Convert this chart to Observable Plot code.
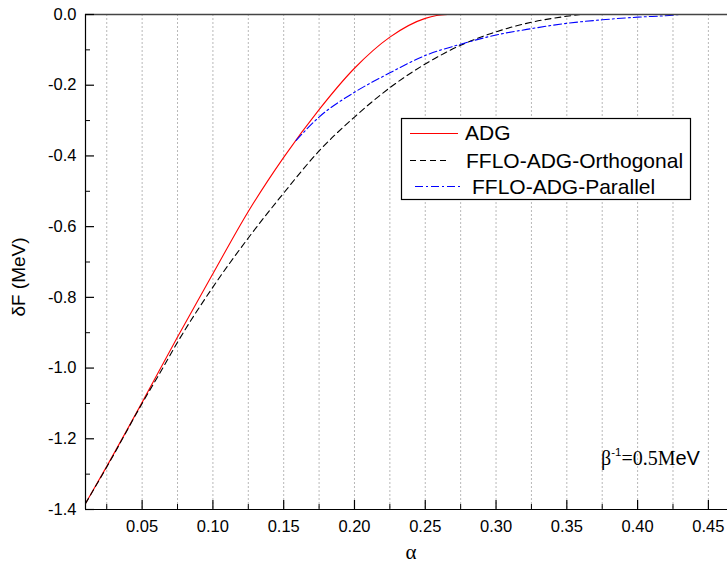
<!DOCTYPE html>
<html>
<head>
<meta charset="utf-8">
<script src="https://cdn.jsdelivr.net/npm/d3@7"></script>
<script src="https://cdn.jsdelivr.net/npm/@observablehq/plot@0.6"></script>
<style>
  html, body { margin: 0; padding: 0; background: white; }
  #wrap { position: relative; width: 727px; height: 565px; overflow: hidden; }
  #overlay { position: absolute; left: 0; top: 0; pointer-events: none; }
</style>
</head>
<body>
<div id="wrap"></div>
<script>
// ---- data ----
const xDomain = [0.01, 0.4635];
const yDomain = [-1.4, 0];

const xMajorTicks = [0.05, 0.10, 0.15, 0.20, 0.25, 0.30, 0.35, 0.40, 0.45];
const xMinorTicks = [0.025, 0.075, 0.125, 0.175, 0.225, 0.275, 0.325, 0.375, 0.425];
const xGridLines = [0.025, 0.05, 0.075, 0.10, 0.125, 0.15, 0.175, 0.20, 0.225, 0.25, 0.275, 0.30, 0.325, 0.35, 0.375, 0.40, 0.425, 0.45];
const yMajorTicks = [0.0, -0.2, -0.4, -0.6, -0.8, -1.0, -1.2, -1.4];
const yMinorTicks = [-0.1, -0.3, -0.5, -0.7, -0.9, -1.1, -1.3];

const seriesNames = ["ADG", "FFLO-ADG-Orthogonal", "FFLO-ADG-Parallel"];
const seriesColors = ["#ff0000", "#000000", "#0000ff"];
const seriesDashes = [null, "6,4", "8,3,2,3"];

const adgAlpha = [0.01, 0.025, 0.05, 0.075, 0.10, 0.125, 0.15, 0.175, 0.20, 0.225, 0.25, 0.258, 0.266];
const adgF     = [-1.383, -1.278, -1.097, -0.912, -0.733, -0.557, -0.404, -0.269, -0.152, -0.064, -0.011, -0.003, 0.0];

const orthAlpha = [0.01, 0.025, 0.05, 0.065, 0.075, 0.10, 0.125, 0.15, 0.175, 0.20, 0.225, 0.25, 0.275, 0.30, 0.325, 0.35, 0.36];
const orthF     = [-1.383, -1.280, -1.100, -0.997, -0.927, -0.771, -0.632, -0.505, -0.386, -0.290, -0.207, -0.140, -0.087, -0.049, -0.022, -0.005, 0.0];

const parAlpha = [0.1588, 0.175, 0.20, 0.225, 0.25, 0.275, 0.30, 0.325, 0.35, 0.375, 0.40, 0.425, 0.43, 0.4635];
const parF     = [-0.356, -0.290, -0.220, -0.165, -0.116, -0.084, -0.058, -0.040, -0.025, -0.015, -0.0075, -0.002, 0.0, 0.0];

const alphaLists = [adgAlpha, orthAlpha, parAlpha];
const fLists = [adgF, orthF, parF];

// ---- build ----
const W = 727, H = 565;
const mL = 85, mR = 0, mT = 14, mB = 56;

const lineMarks = seriesNames.map((name, s) =>
  Plot.line(alphaLists[s].map((a, i) => ({a, f: fLists[s][i]})), {
    x: "a", y: "f", stroke: seriesColors[s], strokeWidth: 1.1,
    strokeDasharray: seriesDashes[s], curve: "monotone-x"
  })
);

const chart = Plot.plot({
  width: W, height: H,
  marginLeft: mL, marginRight: mR, marginTop: mT, marginBottom: mB,
  style: {fontFamily: "'Liberation Sans', Arial, sans-serif", fontSize: "16.5px", color: "black", background: "white", overflow: "visible"},
  x: {domain: xDomain, label: null},
  y: {domain: yDomain, label: null},
  marks: [
    Plot.ruleX(xGridLines, {stroke: "#b8b8b8", strokeWidth: 1, strokeDasharray: "2,2"}),
    ...lineMarks,
    Plot.ruleY([yDomain[1]], {stroke: "#444", strokeWidth: 1.3}),
    Plot.ruleY([yDomain[0]], {stroke: "#000", strokeWidth: 1.2}),
    Plot.ruleX([xDomain[0]], {stroke: "#000", strokeWidth: 1.2}),
    Plot.axisY(yMajorTicks, {tickSize: -9, fill: "none", label: null, strokeWidth: 1.2}),
    Plot.axisY(yMinorTicks, {tickSize: -5, fill: "none", label: null}),
    Plot.axisY(yMajorTicks, {tickSize: 0, tickPadding: 9, label: null, tickFormat: d => d.toFixed(1)}),
    Plot.axisX(xMajorTicks, {tickSize: -9, fill: "none", label: null, strokeWidth: 1.2}),
    Plot.axisX(xMinorTicks, {tickSize: -5, fill: "none", label: null}),
    Plot.axisX(xMajorTicks, {tickSize: 0, tickPadding: 11, label: null, tickFormat: d => d.toFixed(2)})
  ]
});
document.getElementById("wrap").appendChild(chart);

// ---- overlay: labels, legend, annotation ----
const ov = d3.select("#wrap").append("svg")
  .attr("id", "overlay").attr("width", W).attr("height", H);

// y label
ov.append("text")
  .attr("transform", "translate(25,277) rotate(-90)")
  .attr("text-anchor", "middle")
  .attr("font-family", "'Liberation Sans', Arial, sans-serif")
  .attr("font-size", 19)
  .text("δF (MeV)");

// x label
ov.append("text")
  .attr("x", 411).attr("y", 559)
  .attr("text-anchor", "middle")
  .attr("font-family", "'Liberation Serif', 'Times New Roman', serif")
  .attr("font-size", 21)
  .text("α");

// annotation
const ann = ov.append("text").attr("x", 601).attr("y", 465)
  .attr("font-size", 20);
ann.append("tspan").attr("font-family", "'Liberation Serif', serif").text("β");
ann.append("tspan").attr("font-family", "'Liberation Sans', sans-serif").attr("font-size", 11.5).attr("dy", -9).text("-1");
ann.append("tspan").attr("font-family", "'Liberation Serif', serif").attr("dy", 9).text("=0.5M");
ann.append("tspan").attr("font-family", "'Liberation Sans', sans-serif").text("eV");

// legend
const lg = ov.append("g");
lg.append("rect").attr("x", 401.5).attr("y", 118.5).attr("width", 289).attr("height", 81)
  .attr("fill", "white").attr("stroke", "black").attr("stroke-width", 1.2);
const legRows = [
  {y: 133.5, x1: 410, x2: 458, tx: 465, ty: 140},
  {y: 160.5, x1: 410, x2: 450, tx: 466, ty: 167.5},
  {y: 186.5, x1: 415, x2: 463, tx: 472, ty: 194}
];
seriesNames.forEach((name, s) => {
  const r = legRows[s];
  lg.append("line").attr("x1", r.x1).attr("x2", r.x2).attr("y1", r.y).attr("y2", r.y)
    .attr("stroke", seriesColors[s]).attr("stroke-width", 1.2)
    .attr("stroke-dasharray", seriesDashes[s]);
  lg.append("text").attr("x", r.tx).attr("y", r.ty)
    .attr("font-family", "'Liberation Sans', Arial, sans-serif")
    .attr("font-size", 21)
    .text(name);
});
</script>
</body>
</html>
